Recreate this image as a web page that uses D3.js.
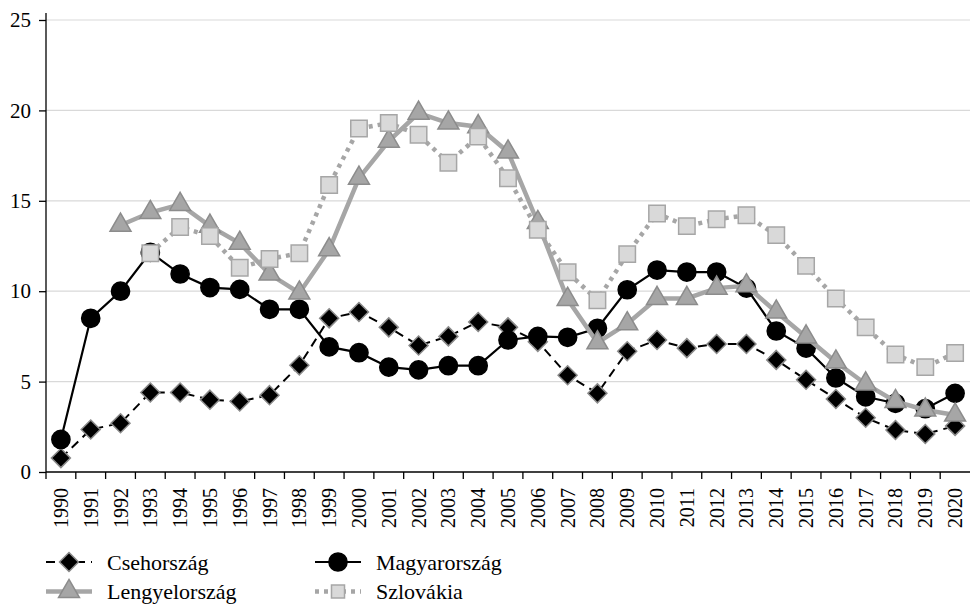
<!DOCTYPE html>
<html>
<head>
<meta charset="utf-8">
<script src="https://cdn.jsdelivr.net/npm/d3@7"></script>
<style>
  body { margin: 0; background: #fff; }
  text { font-family: "Liberation Serif", "DejaVu Serif", "Times New Roman", serif; }
</style>
</head>
<body>
<div id="chart"></div>
<script>
const YEARS = d3.range(1990, 2021);
const Y_TICKS = [0, 5, 10, 15, 20, 25];

// values, null = no data
const CSEH = [0.77, 2.35, 2.7, 4.4, 4.4, 4.0, 3.9, 4.25, 5.9, 8.5, 8.85, 8.0, 7.0, 7.5, 8.3, 8.0,
  7.2, 5.35, 4.35, 6.68, 7.3, 6.85, 7.08, 7.08, 6.2, 5.1, 4.04, 3.0, 2.32, 2.1, 2.55];
const MAGYAR = [1.8, 8.5, 10.0, 12.15, 10.95, 10.2, 10.1, 9.0, 9.0, 6.92, 6.6, 5.8, 5.65, 5.88, 5.88, 7.3,
  7.5, 7.45, 7.95, 10.08, 11.17, 11.06, 11.06, 10.17, 7.8, 6.85, 5.2, 4.16, 3.8, 3.5, 4.35];
const LENGYEL = [null, null, 13.65, 14.35, 14.8, 13.6, 12.65, 10.95, 9.9, 12.3, 16.25, 18.3, 19.85, 19.3, 19.1, 17.7,
  13.8, 9.55, 7.15, 8.2, 9.6, 9.6, 10.17, 10.3, 8.85, 7.47, 6.08, 4.87, 3.9, 3.43, 3.15];
const SZLOVAK = [null, null, null, 12.1, 13.55, 13.05, 11.3, 11.78, 12.1, 15.87, 19.0, 19.3, 18.65, 17.1, 18.55, 16.25,
  13.4, 11.05, 9.5, 12.05, 14.3, 13.6, 13.98, 14.2, 13.1, 11.4, 9.6, 8.0, 6.5, 5.8, 6.58];

const SERIES = [
  { name: "Csehország", values: CSEH, symbol: "diamond" },
  { name: "Magyarország", values: MAGYAR, symbol: "circle" },
  { name: "Lengyelország", values: LENGYEL, symbol: "triangle" },
  { name: "Szlovákia", values: SZLOVAK, symbol: "square" },
];

const STYLE = {
  diamond: { line: "#000", width: 2, dash: "9,6", fill: "#000", stroke: "#8a8a8a", type: d3.symbolDiamond2, size: 230 },
  circle: { line: "#000", width: 2.2, dash: null, fill: "#000", stroke: "#000", type: d3.symbolCircle, size: 260 },
  triangle: { line: "#a6a6a6", width: 4.5, dash: null, fill: "#a6a6a6", stroke: "#8c8c8c", type: d3.symbolTriangle, size: 190 },
  square: { line: "#a6a6a6", width: 4.5, dash: "4,5", fill: "#d9d9d9", stroke: "#a6a6a6", type: d3.symbolSquare, size: 270 },
};

const FONT = '"Liberation Serif", "DejaVu Serif", serif';
const width = 971;
const height = 606;
const margin = { top: 20, right: 1, bottom: 134, left: 46 };

const svg = d3.select("#chart")
  .append("svg")
  .attr("width", width)
  .attr("height", height)
  .attr("font-family", FONT);

const x = d3.scaleBand()
  .domain(YEARS)
  .range([margin.left, width - margin.right]);

const y = d3.scaleLinear()
  .domain([0, 25])
  .range([height - margin.bottom, margin.top]);

const cx = (i) => x(YEARS[i]) + x.bandwidth() / 2;

// gridlines
svg.append("g")
  .selectAll("line")
  .data(Y_TICKS.filter((t) => t > 0))
  .join("line")
  .attr("x1", margin.left)
  .attr("x2", width - margin.right)
  .attr("y1", y)
  .attr("y2", y)
  .attr("stroke", "#d9d9d9")
  .attr("stroke-width", 1.2);

// y axis
svg.append("g")
  .attr("transform", `translate(${margin.left},0)`)
  .call(d3.axisLeft(y).tickValues(Y_TICKS).tickSize(7).tickSizeOuter(0).tickPadding(8))
  .attr("font-family", FONT)
  .call((g) => g.select(".domain").remove())
  .call((g) => g.selectAll("line").attr("stroke", "#000").attr("stroke-width", 1.3))
  .call((g) => g.selectAll("text").attr("font-size", 21).attr("fill", "#000"));

svg.append("line")
  .attr("x1", margin.left).attr("x2", margin.left)
  .attr("y1", margin.top - 7).attr("y2", y(0))
  .attr("stroke", "#000").attr("stroke-width", 1.3);

// x axis
const xAxis = svg.append("g")
  .attr("transform", `translate(0,${y(0)})`);

xAxis.append("line")
  .attr("x1", margin.left).attr("x2", width - margin.right)
  .attr("stroke", "#000").attr("stroke-width", 1.3);

xAxis.selectAll(".tick")
  .data(YEARS)
  .join("line")
  .attr("class", "tick")
  .attr("x1", (d) => x(d))
  .attr("x2", (d) => x(d))
  .attr("y2", 7)
  .attr("stroke", "#000")
  .attr("stroke-width", 1.3);

xAxis.selectAll("text")
  .data(YEARS)
  .join("text")
  .attr("transform", (d) => `translate(${x(d) + x.bandwidth() / 2},16) rotate(-90)`)
  .attr("text-anchor", "end")
  .attr("dy", "0.35em")
  .attr("font-size", 20)
  .text((d) => d);

// series lines and markers
const line = d3.line()
  .defined((d) => d.v != null)
  .x((d) => cx(d.i))
  .y((d) => y(d.v));

for (const s of SERIES) {
  const st = STYLE[s.symbol];
  const pts = s.values.map((v, i) => ({ v, i }));
  const g = svg.append("g");

  g.append("path")
    .datum(pts)
    .attr("d", line)
    .attr("fill", "none")
    .attr("stroke", st.line)
    .attr("stroke-width", st.width)
    .attr("stroke-dasharray", st.dash);

  g.selectAll("path.mark")
    .data(pts.filter((d) => d.v != null))
    .join("path")
    .attr("class", "mark")
    .attr("transform", (d) => `translate(${cx(d.i)},${y(d.v)})`)
    .attr("d", d3.symbol(st.type, st.size))
    .attr("fill", st.fill)
    .attr("stroke", st.stroke)
    .attr("stroke-width", 1.5);
}

// legend
const legend = svg.append("g")
  .selectAll("g")
  .data(SERIES)
  .join("g")
  .attr("transform", (d, i) => `translate(${i % 2 === 0 ? 46 : 315},${i < 2 ? 562 : 591.5})`);

legend.append("line")
  .attr("x2", 46)
  .attr("stroke", (d) => STYLE[d.symbol].line)
  .attr("stroke-width", (d) => STYLE[d.symbol].width)
  .attr("stroke-dasharray", (d) => STYLE[d.symbol].dash);

legend.append("path")
  .attr("transform", "translate(23,0)")
  .attr("d", (d) => d3.symbol(STYLE[d.symbol].type, d.symbol === "square" ? 170 : STYLE[d.symbol].size)())
  .attr("fill", (d) => STYLE[d.symbol].fill)
  .attr("stroke", (d) => STYLE[d.symbol].stroke)
  .attr("stroke-width", 1.5);

legend.append("text")
  .attr("x", 61)
  .attr("dy", "0.35em")
  .attr("font-size", 22)
  .text((d) => d.name);
</script>
</body>
</html>
